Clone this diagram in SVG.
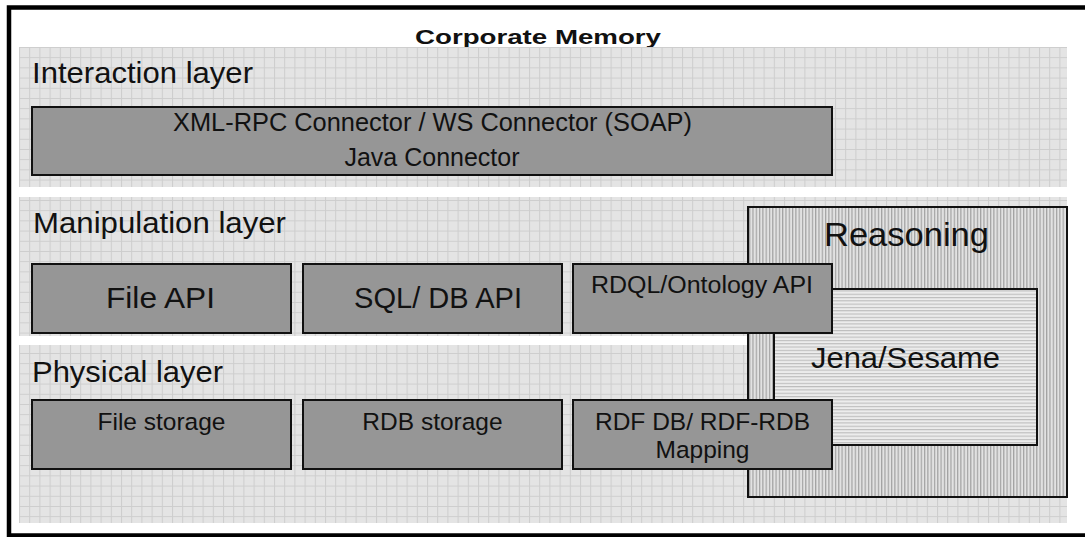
<svg xmlns="http://www.w3.org/2000/svg" width="1085" height="537" viewBox="0 0 1085 537">
<defs>
<pattern id="grid" patternUnits="userSpaceOnUse" x="19" y="47" width="10.2" height="10.2">
<rect width="10.2" height="10.2" fill="#e4e4e4"/>
<path d="M0 0.5H10.2M0.5 0V10.2" stroke="#cdcdcd" stroke-width="1" fill="none"/>
</pattern>
<pattern id="vstripe" patternUnits="userSpaceOnUse" width="3.3" height="10">
<rect width="3.3" height="10" fill="#e2e2e2"/>
<rect width="1.2" height="10" fill="#a2a2a2"/>
</pattern>
<pattern id="hstripe" patternUnits="userSpaceOnUse" width="10" height="3.3">
<rect width="10" height="3.3" fill="#ececec"/>
<rect width="10" height="1.1" fill="#bcbcbc"/>
</pattern>
<style>
text{font-family:"Liberation Sans",Arial,sans-serif;fill:#111}
.box{fill:#969696;stroke:#111;stroke-width:2}
.panel{fill:url(#grid)}
.layer{font-size:30px}
.c{text-anchor:middle}
</style>
</defs>
<rect width="1085" height="537" fill="#fff"/>
<rect x="9" y="7.5" width="1100" height="528" fill="none" stroke="#000" stroke-width="4.5"/>
<text x="538" y="44" class="c" style="font-size:20px;font-weight:bold" textLength="246" lengthAdjust="spacingAndGlyphs">Corporate Memory</text>
<g id="interaction-layer">
<rect class="panel" x="19" y="47" width="1048" height="140"/>
<text class="layer" x="32" y="83" textLength="221" lengthAdjust="spacingAndGlyphs">Interaction layer</text>
</g>
<g id="manipulation-layer">
<rect class="panel" x="19" y="197" width="1048" height="139"/>
<text class="layer" x="33" y="233" textLength="253" lengthAdjust="spacingAndGlyphs">Manipulation layer</text>
</g>
<g id="physical-layer">
<rect class="panel" x="19" y="345" width="1048" height="178"/>
<text class="layer" x="32" y="382" textLength="191" lengthAdjust="spacingAndGlyphs">Physical layer</text>
</g>
<g id="reasoning">
<rect x="748" y="207" width="319" height="290" fill="url(#vstripe)" stroke="#111" stroke-width="2"/>
<text x="906.5" y="246" class="c" style="font-size:33px" textLength="165" lengthAdjust="spacingAndGlyphs">Reasoning</text>
</g>
<g id="jena-sesame">
<rect x="774" y="289" width="263" height="156" fill="url(#hstripe)" stroke="#111" stroke-width="2"/>
<text x="905.5" y="368" class="c" style="font-size:30px" textLength="189" lengthAdjust="spacingAndGlyphs">Jena/Sesame</text>
</g>
<g id="connectors-box">
<rect class="box" x="32" y="107" width="800" height="68"/>
<text x="432.5" y="131" class="c" style="font-size:25px" textLength="519" lengthAdjust="spacingAndGlyphs">XML-RPC Connector / WS Connector (SOAP)</text>
<text x="432" y="166" class="c" style="font-size:25px">Java Connector</text>
</g>
<g id="file-api">
<rect class="box" x="32" y="264" width="259" height="69"/>
<text x="160.5" y="308" class="c" style="font-size:30px" textLength="109" lengthAdjust="spacingAndGlyphs">File API</text>
</g>
<g id="sql-db-api">
<rect class="box" x="303" y="264" width="259" height="69"/>
<text x="438" y="308" class="c" style="font-size:30px" textLength="168" lengthAdjust="spacingAndGlyphs">SQL/ DB API</text>
</g>
<g id="rdql-api">
<rect class="box" x="573" y="264" width="259" height="69"/>
<text x="702" y="293" class="c" style="font-size:23.5px" textLength="222" lengthAdjust="spacingAndGlyphs">RDQL/Ontology API</text>
</g>
<g id="file-storage">
<rect class="box" x="32" y="400" width="259" height="69"/>
<text x="161.5" y="430" class="c" style="font-size:24.5px">File storage</text>
</g>
<g id="rdb-storage">
<rect class="box" x="303" y="400" width="259" height="69"/>
<text x="432.5" y="430" class="c" style="font-size:24.5px">RDB storage</text>
</g>
<g id="rdf-db">
<rect class="box" x="573" y="400" width="259" height="69"/>
<text x="702.5" y="430" class="c" style="font-size:24.5px">RDF DB/ RDF-RDB</text>
<text x="702.5" y="458" class="c" style="font-size:24.5px">Mapping</text>
</g>
<g id="connectors"></g>
</svg>
